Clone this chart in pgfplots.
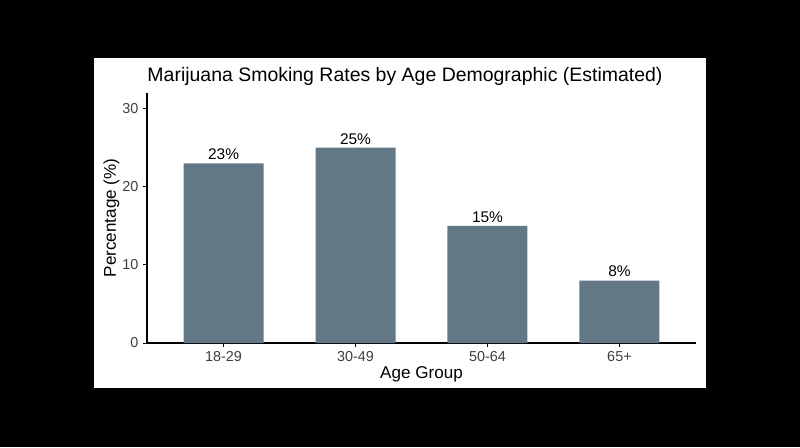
\documentclass[border=0pt]{standalone}
\usepackage{pgfplots}
\pgfplotsset{compat=1.18}
\usepackage{fontspec}
\setmainfont{Liberation Sans}
\definecolor{barcol}{RGB}{99,120,134}

\begin{document}
\begin{tikzpicture}
    % page background and white panel (px units, origin at the axis corner)
    \begin{scope}[x=0.75pt, y=0.75pt]
        \fill[black] (-147,-104) rectangle (653,343);
        \fill[white] (-53,-45) rectangle (559,285);
        \node[anchor=base, font=\fontsize{14.6}{16}\selectfont] at (258,261)
            {Marijuana Smoking Rates by Age Demographic (Estimated)};
    \end{scope}
    \begin{axis}[
        at={(0,0)}, anchor=south west,
        scale only axis,
        width=411.75pt, height=187.5pt,
        ybar, bar width=60pt,
        xmin=0.42, xmax=4.58,
        ymin=0, ymax=32,
        xtick=data,
        xticklabels={18-29, 30-49, 50-64, 65+},
        ytick={0,10,20,30},
        axis x line*=bottom, axis y line*=left,
        axis line style={line width=0.8pt},
        tick align=outside,
        major tick length=3pt,
        tick style={black, line width=0.6pt},
        /pgf/number format/assume math mode=true,
        ticklabel style={font=\fontsize{10.8}{12}\selectfont, text=black!75},
        xlabel={Age Group},
        ylabel={Percentage (\%)},
        label style={font=\fontsize{12.8}{14}\selectfont},
        xlabel style={at={(axis description cs:0.5,-0.14)}, anchor=base},
        ylabel style={at={(axis description cs:-0.0565,0.5)}, anchor=base},
        nodes near coords={\pgfmathprintnumber{\pgfplotspointmeta}\%},
        nodes near coords style={font=\fontsize{11.6}{13}\selectfont, anchor=south, yshift=-1pt},
    ]
    \addplot[fill=barcol, draw=none] coordinates {(1,23) (2,25) (3,15) (4,8)};
    \end{axis}
\end{tikzpicture}
\end{document}
